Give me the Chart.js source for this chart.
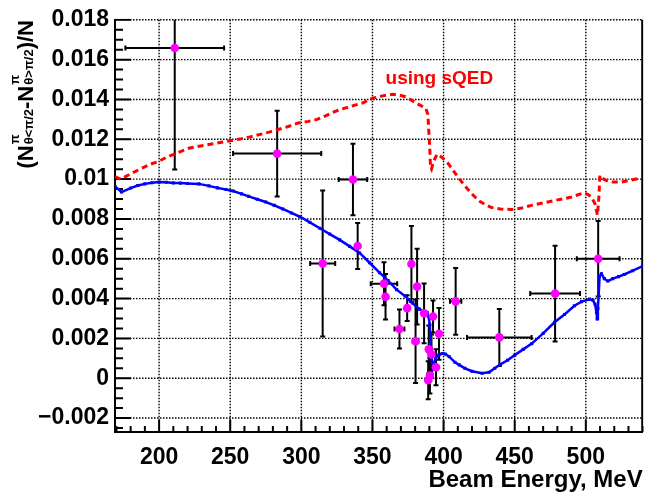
<!DOCTYPE html>
<html><head><meta charset="utf-8">
<script src="https://cdn.jsdelivr.net/npm/chart.js@4/dist/chart.umd.min.js"></script>
<style>html,body{margin:0;padding:0;background:#fff;} #wrap{width:647px;height:495px;}</style>
</head><body><div id="wrap"><canvas id="c" width="647" height="495"></canvas></div>
<script>
// ---- measured data points (beam energy, asymmetry, errors) ----
const dataEnergy    = [211, 283, 336.3, 315, 339.6, 358.1, 359.2, 369, 374.4, 377.4, 381.4, 380.3, 386.3, 392.6, 396.8, 389.6, 391.5, 394.7, 390.4, 389.2, 408.5, 439.2, 478.4, 508.7];
const dataAsym      = [0.01658, 0.01128, 0.00998, 0.00576, 0.00664, 0.00475, 0.00409, 0.00247, 0.00352, 0.00574, 0.0046, 0.00186, 0.00326, 0.0031, 0.00223, 0.00145, 0.0012, 0.00055, 0.00013, -0.0001, 0.00386, 0.00205, 0.00425, 0.006];
const dataEnergyErr = [34.7, 31, 10, 8.8, 0, 9.3, 0, 3.5, 0, 0, 0, 2, 0, 0, 0, 0, 0, 0, 0, 0, 4, 22.7, 17.5, 15];
const dataAsymErr   = [0.0061, 0.00215, 0.0018, 0.00367, 0.00116, 0.00108, 0.00114, 0.00098, 0.00065, 0.0019, 0.0019, 0.0021, 0.0015, 0.0008, 0.0013, 0.0012, 0.001, 0.0009, 0.0009, 0.00095, 0.00168, 0.00143, 0.0024, 0.0019];

// ---- sQED prediction (red dashed) ----
const sqedEnergy = [169, 173, 177, 182, 188, 194, 200, 205, 213, 221, 228, 236, 244, 252, 258, 264, 272, 280, 289, 298, 305, 311, 317, 323, 330, 336, 343, 350, 357, 364, 369, 374, 380, 385, 387.5, 389, 389.6, 390.3, 390.8, 391.5, 393, 395.4, 398.9, 403.6, 409.4, 414, 418.7, 424.5, 429, 433.8, 440, 447.8, 455, 461.8, 470, 478.2, 485, 490, 494, 498.2, 501, 504, 506.4, 508.2, 509.2, 509.9, 511.5, 514.5, 519.2, 525, 532, 539];
const sqedAsym   = [0.01012, 0.01, 0.01015, 0.01034, 0.01055, 0.01075, 0.0109, 0.01109, 0.01132, 0.01155, 0.01165, 0.01175, 0.01185, 0.01195, 0.01203, 0.01212, 0.01226, 0.01241, 0.0126, 0.01282, 0.0129, 0.013, 0.01318, 0.01338, 0.01355, 0.01368, 0.01382, 0.01406, 0.01418, 0.01426, 0.01422, 0.01412, 0.01385, 0.01365, 0.01355, 0.01324, 0.01241, 0.01158, 0.0106, 0.0105, 0.0109, 0.01125, 0.01109, 0.01075, 0.01017, 0.00975, 0.00935, 0.00893, 0.00873, 0.00857, 0.0085, 0.00847, 0.00855, 0.00868, 0.0088, 0.00893, 0.00902, 0.0091, 0.0092, 0.0093, 0.00925, 0.0091, 0.00877, 0.00819, 0.0091, 0.01018, 0.01005, 0.00993, 0.00985, 0.00985, 0.00995, 0.01006];

// ---- model (blue) ----
const modelEnergy = [169, 173.6, 180, 185, 190, 195, 200, 205, 210, 215, 220, 228, 235, 241, 247, 252, 258, 263, 269, 275, 281, 287, 293, 299, 306, 313, 320, 327, 334, 341, 348, 355, 361, 367, 373, 378, 383, 386, 388.5, 389.5, 390.3, 390.8, 391.3, 391.9, 392.5, 393.3, 394.3, 396.6, 399, 401.2, 404, 408, 411, 415, 420, 427, 432, 436, 440, 445, 450, 456, 462, 470, 478, 485, 492, 497, 502.7, 505, 506.5, 507.5, 508, 508.5, 509, 509.7, 511, 513, 515.5, 519, 523, 527, 533, 540];
const modelAsym   = [0.00963, 0.00935, 0.00955, 0.00968, 0.00976, 0.00982, 0.00985, 0.00984, 0.00981, 0.0098, 0.00978, 0.00976, 0.00966, 0.00956, 0.00948, 0.0094, 0.00926, 0.00913, 0.00899, 0.00885, 0.00868, 0.0085, 0.0083, 0.00811, 0.00783, 0.00753, 0.00724, 0.00695, 0.00662, 0.00629, 0.0058, 0.0053, 0.0049, 0.00445, 0.00412, 0.00378, 0.00347, 0.00335, 0.0033, 0.0031, 0.0027, 0.002, 0.0013, 0.0008, 0.0005, 0.0007, 0.001, 0.00116, 0.00124, 0.00122, 0.00108, 0.0008, 0.00067, 0.0005, 0.00035, 0.00025, 0.0003, 0.0005, 0.0007, 0.0009, 0.00116, 0.00145, 0.00174, 0.00225, 0.00281, 0.0032, 0.00364, 0.00385, 0.00397, 0.00392, 0.00372, 0.0033, 0.00298, 0.0035, 0.00414, 0.00513, 0.00525, 0.005, 0.00488, 0.005, 0.0051, 0.00521, 0.0054, 0.00563];

// ---- axis ticks / texts ----
const xTickValues = [200, 250, 300, 350, 400, 450, 500];
const yTickValues = [-0.002, 0, 0.002, 0.004, 0.006, 0.008, 0.01, 0.012, 0.014, 0.016, 0.018];
const xAxisTitle = 'Beam Energy, MeV';
const legendText = 'using sQED';
const legendAnchor = {x: 359.2, y: 0.01477};

const FONT = '"Liberation Sans", Arial, Helvetica, sans-serif';

const pts = (xs, ys) => xs.map((x, i) => ({x: x, y: ys[i]}));

function drawGridAndTicks(chart) {
  const {ctx, chartArea: a} = chart;
  const x = chart.scales.x, y = chart.scales.y;
  ctx.save();
  ctx.beginPath(); ctx.rect(a.left - 1, a.top - 1, a.right - a.left + 2, a.bottom - a.top + 2); ctx.clip();
  // dotted grid at the major ticks
  ctx.strokeStyle = '#000'; ctx.lineWidth = 1.4; ctx.setLineDash([1.5, 1.5]);
  ctx.beginPath();
  xTickValues.forEach(v => {
    const px = x.getPixelForValue(v) + 0.01;
    ctx.moveTo(px, a.top); ctx.lineTo(px, a.bottom);
  });
  yTickValues.forEach(v => {
    const py = y.getPixelForValue(v) + 0.01;
    ctx.moveTo(a.left, py); ctx.lineTo(a.right, py);
  });
  ctx.stroke();
  // inner ticks
  ctx.setLineDash([]); ctx.lineWidth = 2;
  ctx.beginPath();
  for (let k = Math.ceil(y.min / 0.0005); k * 0.0005 <= y.max + 1e-9; k++) {
    const major = Math.abs(k % 4) === 0;
    const py = y.getPixelForValue(k * 0.0005) + 0.01;
    ctx.moveTo(a.left, py); ctx.lineTo(a.left + (major ? 16 : 8), py);
  }
  for (let k = Math.ceil(x.min / 10); k * 10 <= x.max; k++) {
    const major = k % 5 === 0;
    const px = x.getPixelForValue(k * 10) + 0.01;
    ctx.moveTo(px, a.bottom); ctx.lineTo(px, a.bottom - (major ? 12 : 6));
  }
  ctx.moveTo(a.right - 0.49, a.top); ctx.lineTo(a.right - 0.49, a.bottom);
  ctx.stroke();
  ctx.restore();
}

function drawErrorBars(chart) {
  const {ctx, chartArea: a} = chart;
  const x = chart.scales.x, y = chart.scales.y;
  ctx.save();
  ctx.beginPath(); ctx.rect(a.left, a.top, a.right - a.left, a.bottom - a.top); ctx.clip();
  ctx.strokeStyle = '#000'; ctx.lineWidth = 2; ctx.setLineDash([]);
  const cap = 2.5;
  dataEnergy.forEach((e, i) => {
    const v = dataAsym[i];
    const px = x.getPixelForValue(e), py = y.getPixelForValue(v);
    ctx.beginPath();
    if (dataEnergyErr[i] > 0) {
      const x1 = x.getPixelForValue(e - dataEnergyErr[i]), x2 = x.getPixelForValue(e + dataEnergyErr[i]);
      ctx.moveTo(x1, py); ctx.lineTo(x2, py);
      ctx.moveTo(x1, py - cap); ctx.lineTo(x1, py + cap);
      ctx.moveTo(x2, py - cap); ctx.lineTo(x2, py + cap);
    }
    if (dataAsymErr[i] > 0) {
      const y1 = y.getPixelForValue(v - dataAsymErr[i]), y2 = y.getPixelForValue(v + dataAsymErr[i]);
      ctx.moveTo(px, y1); ctx.lineTo(px, y2);
      ctx.moveTo(px - cap, y1); ctx.lineTo(px + cap, y1);
      ctx.moveTo(px - cap, y2); ctx.lineTo(px + cap, y2);
    }
    ctx.stroke();
  });
  ctx.restore();
}

function drawTexts(chart) {
  const {ctx} = chart;
  const x = chart.scales.x, y = chart.scales.y;
  ctx.save();
  ctx.fillStyle = '#ff0000';
  ctx.font = 'bold 19px ' + FONT;
  ctx.textBaseline = 'alphabetic'; ctx.textAlign = 'left';
  ctx.fillText(legendText, x.getPixelForValue(legendAnchor.x), y.getPixelForValue(legendAnchor.y));
  const mainFont = 'bold 22px ' + FONT, smallFont = 'bold 13px ' + FONT;
  const parts = [
    {t: '('}, {t: 'N'}, {sup: 'π', sub: 'θ<π/2'},
    {t: '-N'}, {sup: 'π', sub: 'θ>π/2'}, {t: ')/N'}
  ];
  let total = 0;
  parts.forEach(p => {
    if (p.t) { ctx.font = mainFont; p.w = ctx.measureText(p.t).width; }
    else { ctx.font = smallFont; p.w = Math.max(ctx.measureText(p.sup).width, ctx.measureText(p.sub).width) + 1; }
    total += p.w;
  });
  ctx.fillStyle = '#000';
  ctx.translate(33, 20 + total);
  ctx.rotate(-Math.PI / 2);
  let cx = 0;
  parts.forEach(p => {
    if (p.t) { ctx.font = mainFont; ctx.fillText(p.t, cx, 0); }
    else {
      ctx.font = smallFont;
      ctx.fillText(p.sup, cx + 1, -14);
      ctx.fillText(p.sub, cx + 1, 0);
    }
    cx += p.w;
  });
  ctx.restore();
}

const decorPlugin = {
  id: 'decor',
  beforeDatasetsDraw(chart) { drawGridAndTicks(chart); drawErrorBars(chart); },
  afterDraw(chart) { drawTexts(chart); }
};

const fmtY = v => {
  if (Math.abs(v) < 1e-12) return '0';
  const s = String(Number(v.toFixed(4)));
  return s.replace('-', '\u2212');
};

new Chart(document.getElementById('c'), {
  type: 'scatter',
  data: {
    datasets: [
      {label: 'data', data: pts(dataEnergy, dataAsym), order: 0,
       backgroundColor: '#ff00ff', borderColor: '#ff00ff', pointRadius: 4.3, pointBorderWidth: 0, showLine: false},
      {label: 'model', data: pts(modelEnergy, modelAsym), order: 1, showLine: true,
       borderColor: '#0000ff', borderWidth: 2.5, backgroundColor: '#0000ff',
       pointStyle: 'rect', pointRadius: 2.2, pointBorderWidth: 0, tension: 0},
      {label: 'sQED', data: pts(sqedEnergy, sqedAsym), order: 2, showLine: true,
       borderColor: '#ff0000', borderWidth: 3, borderDash: [6, 4], pointRadius: 0, tension: 0}
    ]
  },
  options: {
    responsive: false, animation: false, events: [],
    layout: {padding: {top: 14, right: 3, left: 0, bottom: 0}},
    plugins: {legend: {display: false}, tooltip: {enabled: false}},
    scales: {
      x: {
        type: 'linear', min: 169, max: 540,
        afterBuildTicks: s => { s.ticks = xTickValues.map(v => ({value: v})); },
        afterFit: s => { s.height = 63; },
        ticks: {padding: 12, color: '#000', autoSkip: false, maxRotation: 0,
                font: {family: FONT, size: 23, weight: 'bold'}, callback: v => String(v)},
        grid: {display: false, drawTicks: false},
        border: {display: true, color: '#000', width: 2},
        title: {display: true, text: xAxisTitle, align: 'end', color: '#000', padding: 0,
                font: {family: FONT, size: 24, weight: 'bold'}}
      },
      y: {
        type: 'linear', min: -0.0027, max: 0.018,
        afterBuildTicks: s => { s.ticks = yTickValues.map(v => ({value: v})); },
        afterFit: s => { s.width = 115; },
        ticks: {padding: 6, color: '#000', autoSkip: false,
                font: {family: FONT, size: 23, weight: 'bold'}, callback: v => fmtY(v)},
        grid: {display: false, drawTicks: false},
        border: {display: true, color: '#000', width: 2}
      }
    }
  },
  plugins: [decorPlugin]
});
</script>
</body></html>
